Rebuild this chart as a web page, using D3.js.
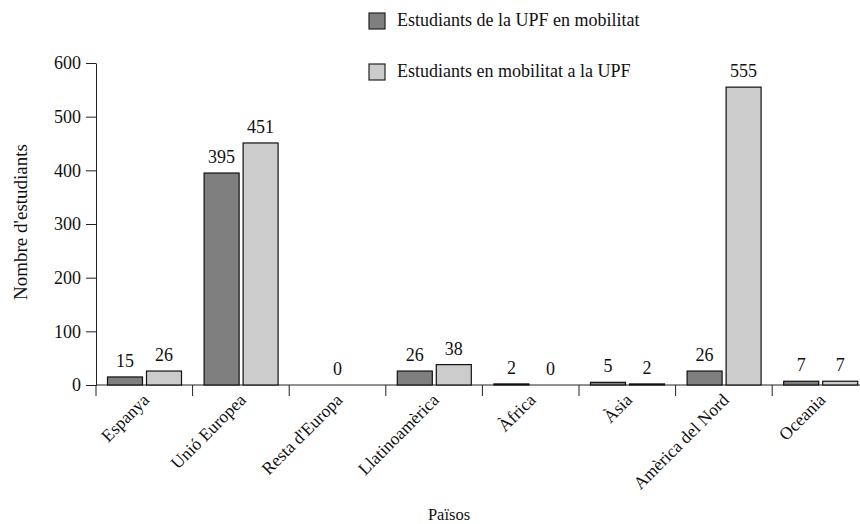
<!DOCTYPE html>
<html><head><meta charset="utf-8">
<script src="https://cdn.jsdelivr.net/npm/d3@7"></script>
<style>body{margin:0;background:#fff}svg{display:block}text{font-family:"Liberation Serif","Times New Roman",serif;fill:#111}</style>
</head><body>
<svg id="c" width="860" height="524"></svg>
<script>
const categories = ["Espanya","Unió Europea","Resta d'Europa","Llatinoamèrica","Àfrica","Àsia","Amèrica del Nord","Oceania"];
const seriesNames = ["Estudiants de la UPF en mobilitat","Estudiants en mobilitat a la UPF"];
const outgoing = [15,395,0,26,2,5,26,7];
const incoming = [26,451,0,38,0,2,555,7];
const yTicks = [0,100,200,300,400,500,600];
const colors = ["#7f7f7f","#cccccc"];

const svg = d3.select("#c");
const x0 = d3.scaleBand().domain(categories).range([96, 96+8*96.6]);
const x1 = d3.scaleBand().domain([0,1]).range([11.5, 85.5]).paddingInner(0.1026);
const y = d3.scaleLinear().domain([0,600]).range([385, 63]);

// y axis
const ya = svg.append("g").attr("transform","translate(96,0)")
  .call(d3.axisLeft(y).tickValues(yTicks).tickSize(10).tickPadding(5).tickSizeOuter(0));
ya.select(".domain").attr("stroke","#222");
ya.selectAll(".tick line").attr("stroke","#222");
ya.selectAll("text").style("font-size","18px").attr("fill","#111").attr("font-family",null);

// x axis line
svg.append("line").attr("x1",96).attr("x2",860).attr("y1",y(0)).attr("y2",y(0)).attr("stroke","#222");
// x ticks at band starts
svg.append("g").selectAll("line").data(categories).join("line")
  .attr("x1",d=>x0(d)).attr("x2",d=>x0(d)).attr("y1",y(0)).attr("y2",y(0)+11).attr("stroke","#222");

// bars
const data = categories.map((c,i)=>({c, v:[outgoing[i], incoming[i]]}));
const g = svg.append("g");
data.forEach(d=>{
  d.v.forEach((v,j)=>{
    g.append("rect")
      .attr("x", x0(d.c)+x1(j)).attr("width", x1.bandwidth())
      .attr("y", y(v)).attr("height", y(0)-y(v))
      .attr("fill", colors[j]).attr("stroke","#111").attr("stroke-width",1.2);
  });
  const both0 = d.v[0]===0 && d.v[1]===0;
  if (both0) {
    g.append("text").attr("x", x0(d.c)+x0.bandwidth()/2).attr("y", y(0)-10)
      .attr("text-anchor","middle").style("font-size","18px").text(0);
  } else {
    d.v.forEach((v,j)=>{
      g.append("text").attr("x", x0(d.c)+x1(j)+x1.bandwidth()/2).attr("y", y(v)-10)
        .attr("text-anchor","middle").style("font-size","18px").text(v);
    });
  }
});

// x tick labels
svg.append("g").selectAll("text").data(categories).join("text")
  .attr("transform", d=>`translate(${x0(d)+x0.bandwidth()/2+6},${y(0)+16}) rotate(-45)`)
  .attr("text-anchor","end").style("font-size","17.5px").text(d=>d);

// axis titles
svg.append("text").attr("transform","translate(27,222) rotate(-90)").attr("text-anchor","middle")
  .style("font-size","19px").text("Nombre d'estudiants");
svg.append("text").attr("x",449).attr("y",520).attr("text-anchor","middle")
  .style("font-size","16.5px").text("Països");

// legend
const lg = svg.append("g");
seriesNames.forEach((s,i)=>{
  lg.append("rect").attr("x",369).attr("y",13+i*51).attr("width",16).attr("height",16)
    .attr("fill",colors[i]).attr("stroke","#222").attr("stroke-width",1.2);
  lg.append("text").attr("x",397).attr("y",26+i*51).style("font-size","18px").text(s);
});
</script>
</body></html>
